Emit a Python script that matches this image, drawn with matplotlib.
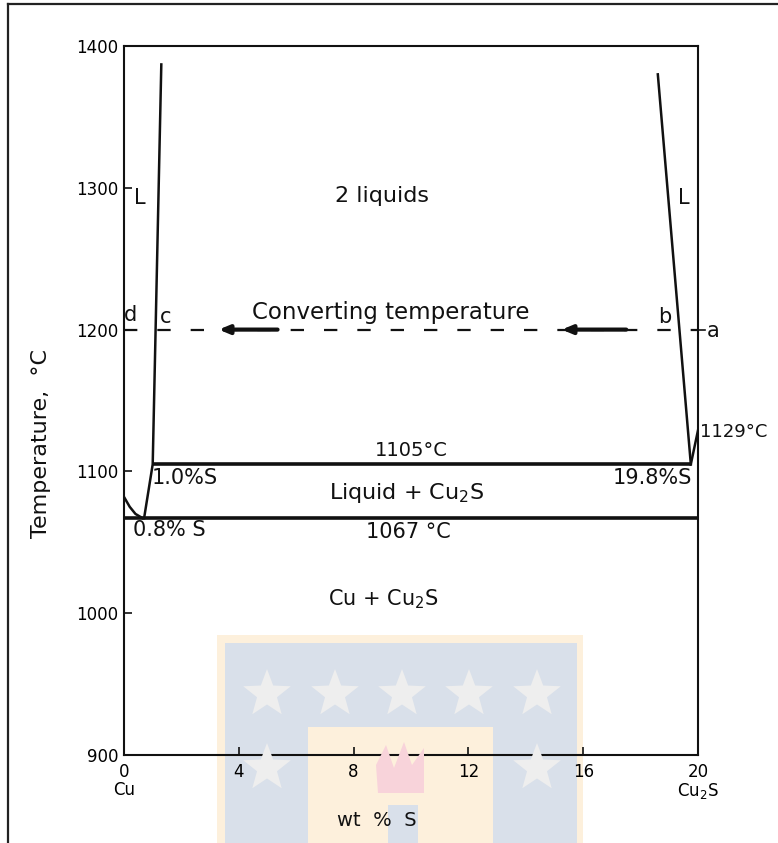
import matplotlib
matplotlib.use("Agg")
import matplotlib.pyplot as plt
from matplotlib.patches import Rectangle, Polygon
import numpy as np

plt.rcParams['font.family'] = ['DejaVu Sans']

# ---- data ----
temp_ticks = [900, 1000, 1100, 1200, 1300, 1400]
x_ticks = [0, 4, 8, 12, 16, 20]
x_tick_labels = ["0\nCu", "4", "8", "12", "16", "20\nCu$_2$S"]

cu_liq_x = [0.0, 0.2, 0.4, 0.65]
cu_liq_y = [1082, 1075, 1070, 1067]

c_bound_x = [0.7, 1.0, 1.3]
c_bound_y = [1067, 1105, 1387]

b_bound_x = [19.75, 18.6]
b_bound_y = [1105, 1380]

cu2s_liq_x = [19.75, 20.0]
cu2s_liq_y = [1105, 1129]

monotectic_x = [1.0, 19.75]
monotectic_T = 1105
eutectic_x = [0.0, 20.0]
eutectic_T = 1067
converting_x = [0.0, 20.0]
converting_T = 1200
arrow_spans = [(5.35, 3.3), (17.5, 15.25)]

# ---- figure ----
W, H = 778, 843
fig = plt.figure(figsize=(W / 100, H / 100), dpi=100)

def fx(px): return px / W
def fy(py): return 1 - py / H

# watermark
fig.add_artist(Rectangle((fx(217), fy(843)), fx(583) - fx(217), fy(635) - fy(843),
                         transform=fig.transFigure, facecolor='#fdf0dc', edgecolor='none', zorder=0))
fig.add_artist(Rectangle((fx(225), fy(843)), fx(577) - fx(225), fy(643) - fy(843),
                         transform=fig.transFigure, facecolor='#d9e0ea', edgecolor='none', zorder=0))
fig.add_artist(Rectangle((fx(308), fy(843)), fx(493) - fx(308), fy(727) - fy(843),
                         transform=fig.transFigure, facecolor='#fdf0dc', edgecolor='none', zorder=0))
def star(cx, cy, r):
    pts = []
    for k in range(10):
        ang = np.pi / 2 + k * np.pi / 5
        rr = r if k % 2 == 0 else r * 0.42
        pts.append((fx(cx + rr * np.cos(ang)), fy(cy - rr * np.sin(ang))))
    fig.add_artist(Polygon(pts, closed=True, transform=fig.transFigure,
                           facecolor='#eeeeee', edgecolor='none', zorder=0.5))
for cx in [267, 335, 402, 469, 537]:
    star(cx, 694, 25)
for cx in [267, 537]:
    star(cx, 768, 25)
fig.add_artist(Polygon([(fx(378), fy(793)), (fx(376), fy(765)), (fx(386), fy(745)),
                        (fx(394), fy(768)), (fx(404), fy(742)), (fx(412), fy(765)),
                        (fx(424), fy(748)), (fx(424), fy(793))],
                       closed=True, transform=fig.transFigure, facecolor='#f8d3da',
                       edgecolor='none', zorder=0.5))
fig.add_artist(Rectangle((fx(388), fy(843)), fx(418) - fx(388), fy(805) - fy(843),
                         transform=fig.transFigure, facecolor='#d9e0ea', edgecolor='none', zorder=0.5))

# outer frame lines
fig.add_artist(plt.Line2D([fx(8), 1], [fy(4), fy(4)], transform=fig.transFigure, color='#222222', lw=1.6))
fig.add_artist(plt.Line2D([fx(8), fx(8)], [fy(4), 0], transform=fig.transFigure, color='#222222', lw=1.6))

ax = fig.add_axes([fx(124), fy(755), fx(698) - fx(124), fy(46) - fy(755)])
ax.set_facecolor('none')
ax.set_xlim(0, 20)
ax.set_ylim(900, 1400)
for s in ax.spines.values():
    s.set_linewidth(1.5)
    s.set_color('#111111')

ax.set_yticks(temp_ticks)
ax.set_yticklabels([str(t) for t in temp_ticks], fontsize=12)
ax.set_xticks(x_ticks)
ax.set_xticklabels(x_tick_labels, fontsize=12, linespacing=1.0)
ax.tick_params(axis='both', direction='in', length=6, width=1.2, color='#111111')
ax.tick_params(axis='x', pad=6)
ax.tick_params(axis='y', pad=4)

lc = '#111111'
ax.plot(cu_liq_x, cu_liq_y, color=lc, lw=1.8)
ax.plot(c_bound_x, c_bound_y, color=lc, lw=1.8)
ax.plot(b_bound_x, b_bound_y, color=lc, lw=1.8)
ax.plot(cu2s_liq_x, cu2s_liq_y, color=lc, lw=1.8)
ax.plot(monotectic_x, [monotectic_T] * 2, color=lc, lw=2.6, solid_capstyle='butt')
ax.plot(eutectic_x, [eutectic_T] * 2, color=lc, lw=2.6, solid_capstyle='butt')
ax.plot(converting_x, [converting_T] * 2, color=lc, lw=1.6, linestyle=(0, (6, 9)))
for x0, x1 in arrow_spans:
    ax.annotate('', xy=(x1, converting_T), xytext=(x0, converting_T),
                arrowprops=dict(arrowstyle='-|>,head_length=0.6,head_width=0.25',
                                lw=3.0, color=lc, shrinkA=0, shrinkB=0))

ax.plot([20.0, 20.25], [converting_T, converting_T], color=lc, lw=1.2, clip_on=False)

fs = 15
tk = dict(color='#111111')
ax.text(9.0, 1294, '2 liquids', fontsize=16, ha='center', va='center', **tk)
ax.text(0.56, 1293, 'L', fontsize=fs, ha='center', va='center', **tk)
ax.text(19.5, 1293, 'L', fontsize=fs, ha='center', va='center', **tk)
ax.text(9.3, 1212, 'Converting temperature', fontsize=16.5, ha='center', va='center', **tk)
ax.text(0.22, 1210, 'd', fontsize=fs, ha='center', va='center', **tk)
ax.text(1.45, 1209, 'c', fontsize=fs, ha='center', va='center', **tk)
ax.text(18.85, 1209, 'b', fontsize=fs, ha='center', va='center', **tk)
ax.text(20.3, 1199, 'a', fontsize=fs, ha='left', va='center', clip_on=False, **tk)
ax.text(10.0, 1115, '1105°C', fontsize=14, ha='center', va='center', **tk)
ax.text(0.95, 1095, '1.0%S', fontsize=fs, ha='left', va='center', **tk)
ax.text(19.8, 1095, '19.8%S', fontsize=fs, ha='right', va='center', **tk)
ax.text(9.85, 1085, 'Liquid + Cu$_2$S', fontsize=16, ha='center', va='center', **tk)
ax.text(0.3, 1059, '0.8% S', fontsize=fs, ha='left', va='center', **tk)
ax.text(9.9, 1057, '1067 °C', fontsize=fs, ha='center', va='center', **tk)
ax.text(9.05, 1010, 'Cu + Cu$_2$S', fontsize=fs, ha='center', va='center', **tk)
ax.text(20.08, 1128, '1129°C', fontsize=13, ha='left', va='center', clip_on=False, **tk)

fig.text(fx(377), fy(820), 'wt  %  S', fontsize=14, ha='center', va='center', color='#111111')
fig.text(fx(41), fy(444), 'Temperature,  °C', fontsize=16, rotation=90,
         ha='center', va='center', color='#111111')

fig.savefig('out.png', dpi=100, facecolor='white')
